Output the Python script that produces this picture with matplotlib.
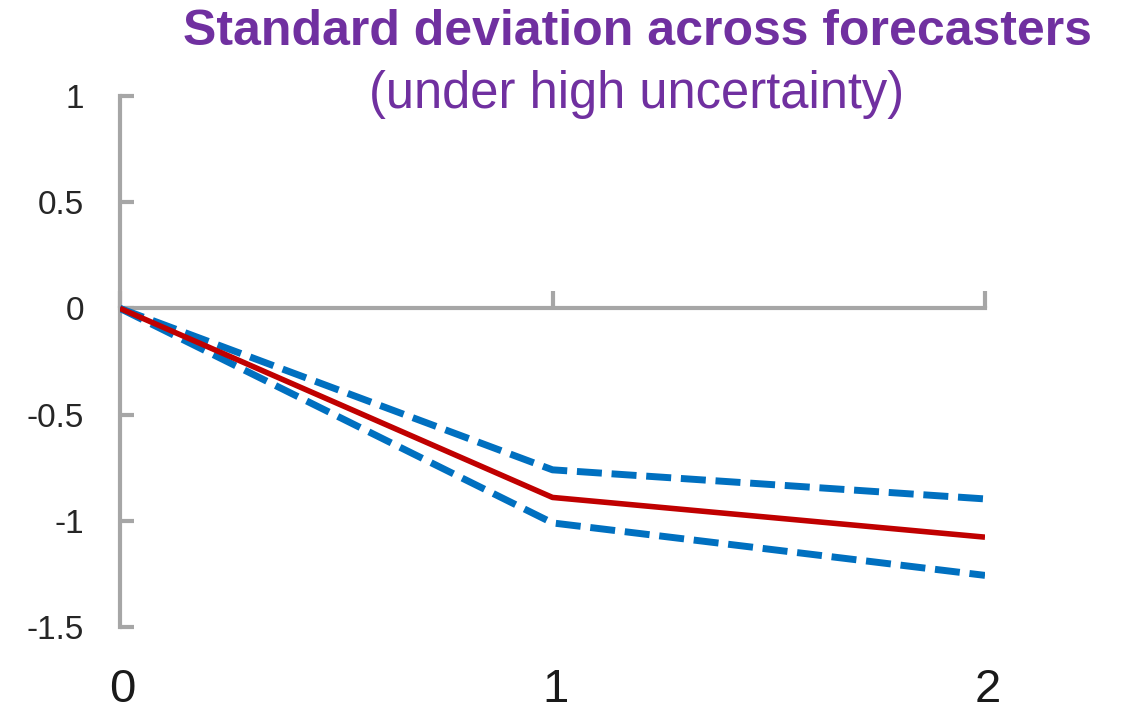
import matplotlib.pyplot as plt

plt.rcParams['font.family'] = ['Liberation Sans', 'DejaVu Sans']
plt.rcParams['axes.unicode_minus'] = False

horizon = [0, 1, 2]
median_path = [0, -0.89, -1.077]
upper_band = [0, -0.76, -0.897]
lower_band = [0, -1.01, -1.257]
y_ticks = [-1.5, -1, -0.5, 0, 0.5, 1]
y_tick_labels = ['-1.5', '-1', '-0.5', '0', '0.5', '1']
x_tick_labels = ['0', '1', '2']

axis_grey = '#A6A6A6'
purple = '#7030A0'

fig = plt.figure(figsize=(11.24, 7.14), dpi=100)
ax = fig.add_axes([120 / 1124, 1 - 627 / 714, 865 / 1124, 531 / 714])

ax.plot(horizon, upper_band, color='#0070C0', lw=5, ls=(0, (3.6, 1.4)),
        dash_capstyle='butt', zorder=3)
ax.plot(horizon, lower_band, color='#0070C0', lw=5, ls=(0, (3.6, 1.4)),
        dash_capstyle='butt', zorder=3)
ax.plot(horizon, median_path, color='#C00000', lw=4, zorder=4,
        solid_capstyle='butt')

ax.set_xlim(0, 2)
ax.set_ylim(-1.5, 1)

for side in ['top', 'right']:
    ax.spines[side].set_visible(False)
ax.spines['bottom'].set_position(('data', 0))
ax.spines['left'].set_color(axis_grey)
ax.spines['bottom'].set_color(axis_grey)
ax.spines['left'].set_linewidth(3)
ax.spines['bottom'].set_linewidth(3)

ax.set_yticks(y_ticks)
ax.set_yticklabels(y_tick_labels)
ax.tick_params(axis='y', direction='in', length=10, width=3, color=axis_grey,
               labelsize=24, labelcolor='#262626', pad=26)
ax.set_xticks(horizon)
ax.set_xticklabels([])
ax.tick_params(axis='x', direction='in', length=12, width=3, color=axis_grey)

# category labels sit below the plotting area rather than on the zero line
for xv, lab in zip(horizon, x_tick_labels):
    ax.text(xv + 0.006, -0.119, lab, transform=ax.get_xaxis_transform(),
            ha='center', va='center', fontsize=34, color='#1a1a1a')

fig.text(637 / 1124, 1 - 45 / 714, 'Standard deviation across forecasters',
         ha='center', va='baseline', fontsize=36, fontweight='bold',
         color=purple)
fig.text(637 / 1124, 1 - 108 / 714, '(under high uncertainty)',
         ha='center', va='baseline', fontsize=36.5, color=purple)

fig.savefig('out.png', dpi=100)
